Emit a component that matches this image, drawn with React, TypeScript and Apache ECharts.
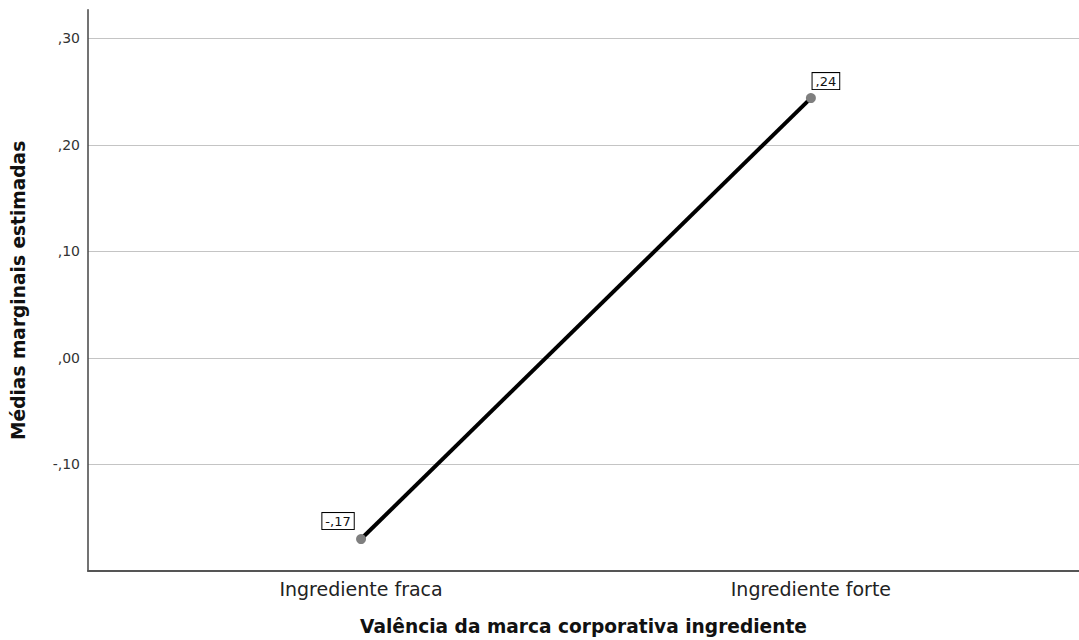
import React, { useEffect, useRef } from "react";
import * as echarts from "echarts";

const categories = ["Ingrediente fraca", "Ingrediente forte"];
const categoryPositions = [1, 2];
const meanValues = [-0.17, 0.244];
const xTitle = "Valência da marca corporativa ingrediente";
const yTitle = "Médias marginais estimadas";

const fmt = (v: number) => {
  const s = Math.abs(v).toFixed(2).slice(2);
  return (v < -1e-9 ? "-" : "") + "," + s;
};

const FONT = "DejaVu Sans";

export default function App() {
  const ref = useRef<HTMLDivElement>(null);
  useEffect(() => {
    if (!ref.current) return;
    const chart = echarts.init(ref.current, undefined, { renderer: "svg" });
    const labelOffsets = [
      [-23, 3],
      [15, 4],
    ];
    chart.setOption({
      animation: false,
      backgroundColor: "#ffffff",
      textStyle: { fontFamily: FONT },
      grid: { left: 88, right: 0, top: 9.7, height: 561.3, outerBoundsMode: "none", containLabel: false },
      xAxis: {
        type: "value",
        min: 0.393,
        max: 2.596,
        name: xTitle,
        nameLocation: "middle",
        nameGap: 46,
        nameTextStyle: { fontFamily: FONT, fontSize: 18.6, fontWeight: "bold", color: "#111" },
        axisLine: { show: true, onZero: false, lineStyle: { color: "#555", width: 2 } },
        axisTick: { show: false },
        splitLine: { show: false },
        axisLabel: {
          customValues: categoryPositions,
          formatter: (v: number) => categories[categoryPositions.indexOf(Math.round(v))] ?? "",
          fontFamily: FONT,
          fontSize: 19,
          color: "#222",
          margin: 8,
        },
      },
      yAxis: {
        type: "value",
        min: -0.2,
        max: 0.327,
        interval: 0.1,
        name: yTitle,
        nameLocation: "middle",
        nameGap: 60,
        nameTextStyle: { fontFamily: FONT, fontSize: 18.6, fontWeight: "bold", color: "#111" },
        axisLine: { show: true, onZero: false, lineStyle: { color: "#444", width: 1.5 } },
        axisTick: { show: false },
        axisLabel: {
          formatter: (v: number) => fmt(v),
          showMinLabel: false,
          showMaxLabel: false,
          fontFamily: FONT,
          fontSize: 14,
          color: "#333",
          margin: 8,
        },
        splitLine: {
          show: true,
          showMinLine: false,
          showMaxLine: false,
          lineStyle: { color: "#c4c4c4", width: 1 },
        },
      },
      series: [
        {
          type: "line",
          data: meanValues.map((v, i) => ({
            value: [categoryPositions[i], v],
            label: { offset: labelOffsets[i] },
          })),
          lineStyle: { color: "#000", width: 4 },
          symbol: "circle",
          symbolSize: 10,
          itemStyle: { color: "#7f7f7f" },
          z: 3,
          label: {
            show: true,
            position: "top",
            distance: 8,
            formatter: (p: any) => fmt(p.value[1]),
            fontFamily: FONT,
            fontSize: 13,
            color: "#111",
            backgroundColor: "#fff",
            borderColor: "#000",
            borderWidth: 1,
            padding: [2, 3, 1, 3],
          },
        },
      ],
    });
    return () => chart.dispose();
  }, []);
  return (
    <div
      ref={ref}
      style={{ position: "fixed", left: 0, top: 0, width: 1079, height: 640 }}
    />
  );
}
